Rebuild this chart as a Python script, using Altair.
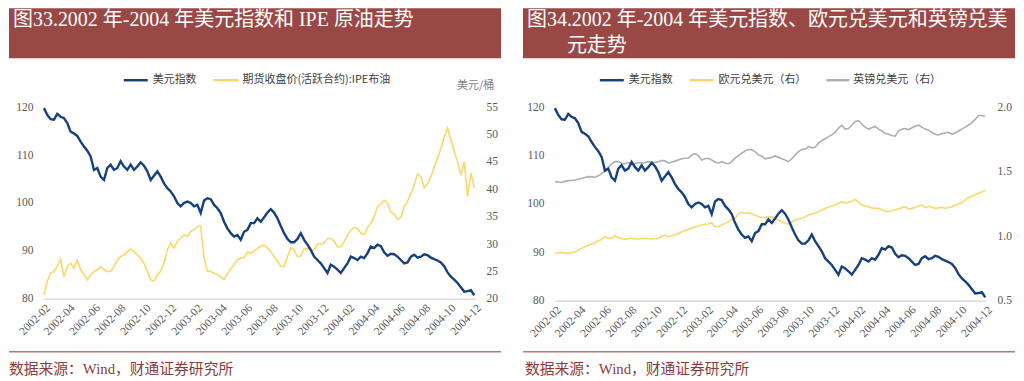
import altair as alt
import pandas as pd

# ---------------- data ----------------
dates = pd.date_range("2002-02-01", periods=130, freq="8D")

usd_index = [
    119.8, 118.4, 117.5, 117.4, 118.6, 118.0, 117.7, 116.7, 114.9, 114.5,
    114.0, 112.8, 111.8, 110.9, 109.7, 106.9, 107.3, 105.5, 104.8, 107.3,
    108.0, 106.9, 107.3, 108.7, 107.6, 106.9, 108.0, 106.9, 107.6, 108.5,
    107.8, 106.6, 104.8, 105.7, 106.6, 105.5, 104.1, 103.1, 102.4, 101.4,
    100.0, 99.3, 100.0, 100.3, 100.0, 99.3, 99.6, 97.9, 100.5, 101.0,
    100.8, 99.6, 98.9, 97.9, 96.1, 94.7, 93.7, 93.0, 93.3, 92.3,
    94.0, 94.4, 95.8, 95.8, 96.8, 96.1, 97.0, 98.0, 98.7, 98.0,
    96.8, 95.2, 93.7, 92.5, 91.8, 91.8, 92.5, 93.7, 92.3, 91.3,
    90.2, 88.8, 88.1, 87.4, 86.4, 85.4, 87.1, 86.7, 86.1, 85.4,
    86.4, 87.4, 88.8, 88.5, 88.1, 88.8, 88.5, 89.5, 90.9, 90.6,
    91.3, 91.0, 89.7, 89.0, 89.4, 89.3, 88.8, 88.1, 87.4, 87.6,
    88.8, 89.2, 88.6, 88.8, 89.3, 89.1, 88.6, 88.3, 88.0, 87.6,
    86.8, 85.5, 84.6, 84.0, 83.3, 82.4, 81.5, 81.6, 81.8, 80.7,
]

ipe_brent = [
    20.7, 23.2, 24.7, 25.0, 25.9, 27.2, 24.0, 25.9, 26.5, 25.6,
    27.1, 25.3, 24.4, 23.5, 24.4, 25.0, 25.3, 25.9, 25.3, 25.0,
    25.0, 25.9, 27.1, 27.7, 28.0, 28.6, 29.1, 28.6, 28.0, 27.4,
    26.5, 25.0, 23.5, 23.2, 24.4, 25.0, 26.5, 28.9, 30.2, 29.3,
    30.5, 31.1, 31.7, 31.4, 32.3, 32.6, 33.2, 33.3, 27.5, 25.0,
    25.0, 24.6, 24.5, 24.0, 23.5, 24.6, 25.5, 26.2, 27.1, 27.5,
    27.5, 28.5, 28.3, 28.7, 29.2, 29.6, 29.8, 29.3, 28.6, 27.7,
    26.9, 25.9, 25.9, 27.7, 29.3, 29.0, 27.7, 27.8, 29.1, 29.2,
    28.9, 29.0, 30.0, 30.0, 30.2, 31.0, 31.0, 30.5, 29.5, 29.5,
    30.5, 31.5, 32.5, 33.0, 32.9, 32.0, 31.7, 33.0, 33.8, 35.0,
    36.8, 37.3, 38.0, 37.5, 35.8, 35.5, 34.5, 34.9, 36.8, 37.8,
    39.2, 40.8, 42.8, 42.3, 40.3, 41.0, 42.3, 44.0, 45.7, 47.5,
    49.5, 51.2, 49.0, 46.9, 45.1, 42.6, 45.0, 38.7, 43.0, 40.2,
]

eur_usd = [
    0.867, 0.872, 0.875, 0.870, 0.867, 0.873, 0.880, 0.893, 0.906, 0.918,
    0.932, 0.940, 0.950, 0.965, 0.975, 0.997, 0.984, 0.984, 1.005, 0.989,
    0.982, 0.976, 0.982, 0.984, 0.980, 0.979, 0.983, 0.984, 0.980, 0.979,
    0.983, 0.984, 1.000, 1.008, 0.997, 1.004, 1.010, 1.020, 1.035, 1.044,
    1.053, 1.064, 1.074, 1.080, 1.087, 1.091, 1.095, 1.105, 1.074, 1.074,
    1.087, 1.100, 1.113, 1.126, 1.139, 1.172, 1.183, 1.178, 1.183, 1.172,
    1.165, 1.152, 1.145, 1.145, 1.152, 1.150, 1.135, 1.125, 1.113, 1.100,
    1.095, 1.110, 1.126, 1.132, 1.139, 1.150, 1.165, 1.172, 1.178, 1.190,
    1.204, 1.215, 1.229, 1.235, 1.242, 1.255, 1.268, 1.258, 1.262, 1.270,
    1.286, 1.265, 1.242, 1.235, 1.229, 1.220, 1.216, 1.216, 1.205, 1.195,
    1.190, 1.198, 1.204, 1.212, 1.220, 1.229, 1.212, 1.216, 1.225, 1.235,
    1.242, 1.220, 1.232, 1.225, 1.216, 1.220, 1.224, 1.216, 1.222, 1.229,
    1.242, 1.250, 1.260, 1.281, 1.300, 1.310, 1.322, 1.333, 1.342, 1.355,
]

gbp_usd = [
    1.423, 1.420, 1.416, 1.425, 1.431, 1.433, 1.436, 1.442, 1.449, 1.455,
    1.462, 1.460, 1.457, 1.468, 1.485, 1.507, 1.535, 1.560, 1.578, 1.578,
    1.565, 1.562, 1.571, 1.562, 1.562, 1.571, 1.568, 1.570, 1.578, 1.573,
    1.572, 1.578, 1.586, 1.585, 1.566, 1.575, 1.582, 1.591, 1.600, 1.604,
    1.604, 1.630, 1.640, 1.625, 1.591, 1.600, 1.604, 1.591, 1.575, 1.566,
    1.578, 1.568, 1.560, 1.578, 1.605, 1.625, 1.643, 1.660, 1.672, 1.670,
    1.656, 1.630, 1.620, 1.600, 1.605, 1.610, 1.622, 1.612, 1.600, 1.591,
    1.578, 1.600, 1.630, 1.655, 1.672, 1.675, 1.695, 1.685, 1.690, 1.721,
    1.740, 1.755, 1.772, 1.785, 1.805, 1.837, 1.860, 1.830, 1.835, 1.860,
    1.890, 1.895, 1.870, 1.845, 1.830, 1.840, 1.850, 1.830, 1.815, 1.798,
    1.790, 1.780, 1.775, 1.815, 1.830, 1.835, 1.825, 1.840, 1.852, 1.860,
    1.845, 1.830, 1.822, 1.805, 1.790, 1.785, 1.795, 1.800, 1.805, 1.790,
    1.800, 1.815, 1.830, 1.845, 1.862, 1.880, 1.905, 1.935, 1.935, 1.930,
]

tick_months = pd.date_range("2002-02-01", "2004-12-01", freq="2MS")
left_ticks = [80, 90, 100, 110, 120]
oil_ticks = [20, 25, 30, 35, 40, 45, 50, 55]
fx_ticks = [0.5, 1.0, 1.5, 2.0]

title1 = "图33.2002 年-2004 年美元指数和 IPE 原油走势"
title2a = "图34.2002 年-2004 年美元指数、欧元兑美元和英镑兑美"
title2b = "元走势"
legend1 = ["美元指数", "期货收盘价(活跃合约):IPE布油"]
unit1 = "美元/桶"
legend2 = ["美元指数", "欧元兑美元（右）", "英镑兑美元（右）"]
source = "数据来源：Wind，财通证券研究所"

# ---------------- styling ----------------
BLUE = "#17407E"
YELLOW = "#F9D86B"
GRAY = "#A9AFB8"
BAR = "#9A4845"
SRC_LINE = "#B87772"
SRC_TEXT = "#8C3B3B"
LABEL = "#595959"
SERIF = "Liberation Serif"
CJK = "Liberation Serif, Noto Sans CJK SC"
LEG = "Noto Sans CJK SC"

df = pd.DataFrame({"date": dates, "usd": usd_index, "ipe": ipe_brent,
                   "eur": eur_usd, "gbp": gbp_usd})
one = pd.DataFrame({"k": [0]})


def xenc():
    return alt.X(
        "date:T",
        scale=alt.Scale(domain=[alt.DateTime(year=2002, month=2, date=1),
                                alt.DateTime(year=2004, month=12, date=1)]),
        axis=alt.Axis(
            values=[alt.DateTime(year=d.year, month=d.month, date=1) for d in tick_months],
            format="%Y-%m", labelAngle=-45, labelAlign="right", labelBaseline="top",
            labelOverlap=False, ticks=False, grid=False, domainColor="#D9D9D9",
            domainWidth=1.5, labelFont=SERIF, labelFontSize=11.5, labelColor=LABEL,
            labelPadding=3, title=None),
    )


def yaxis(values, orient, fmt=None):
    kw = dict(values=values, orient=orient, ticks=False, domain=False, grid=False,
              labelFont=SERIF, labelFontSize=11.5, labelColor=LABEL, labelPadding=11,
              title=None)
    if fmt:
        kw["format"] = fmt
    return alt.Axis(**kw)


def rect(x, x2, y, y2, color):
    return alt.Chart(one).mark_rect(color=color).encode(
        x=alt.value(x), x2=alt.value(x2), y=alt.value(y), y2=alt.value(y2))


def text(s, x, y, size, color, font, baseline="alphabetic"):
    return alt.Chart(one).mark_text(
        text=s, fontSize=size, color=color, font=font, align="left", baseline=baseline
    ).encode(x=alt.value(x), y=alt.value(y))


def hrule(x, x2, y, color, w):
    return alt.Chart(one).mark_rule(color=color, strokeWidth=w).encode(
        x=alt.value(x), x2=alt.value(x2), y=alt.value(y))


# ---------------- panel 1 ----------------
oil_line = alt.Chart(df).mark_line(color=YELLOW, strokeWidth=1.6).encode(
    x=xenc(),
    y=alt.Y("ipe:Q", scale=alt.Scale(domain=[20, 55]), axis=yaxis(oil_ticks, "right")))
usd_line1 = alt.Chart(df).mark_line(color=BLUE, strokeWidth=2.4).encode(
    x=xenc(),
    y=alt.Y("usd:Q", scale=alt.Scale(domain=[80, 120]), axis=yaxis(left_ticks, "left")))

p1 = alt.layer(
    rect(-35, 458, -99, -49, BAR),
    text(title1, -31, -81, 20, "white", CJK),
    hrule(80, 104, -27, BLUE, 2.5),
    text(legend1[0], 109, -27, 11, "#404040", LEG, "middle"),
    hrule(170, 195, -27, YELLOW, 2.5),
    text(legend1[1], 199, -27, 11, "#404040", LEG, "middle"),
    text(unit1, 414, -21, 11, "#7F7F7F", LEG, "middle"),
    hrule(-35, 458, 245, SRC_LINE, 1.5),
    text(source, -35, 267, 14.8, SRC_TEXT, CJK),
    oil_line,
    usd_line1,
).resolve_scale(y="independent").properties(width=432, height=192)

# ---------------- panel 2 ----------------
eur_line = alt.Chart(df).mark_line(color=YELLOW, strokeWidth=1.6).encode(
    x=xenc(),
    y=alt.Y("eur:Q", scale=alt.Scale(domain=[0.5, 2.0]), axis=None))
gbp_line = alt.Chart(df).mark_line(color=GRAY, strokeWidth=1.6).encode(
    x=xenc(),
    y=alt.Y("gbp:Q", scale=alt.Scale(domain=[0.5, 2.0]), axis=yaxis(fx_ticks, "right", ".1f")))
usd_line2 = alt.Chart(df).mark_line(color=BLUE, strokeWidth=2.4).encode(
    x=xenc(),
    y=alt.Y("usd:Q", scale=alt.Scale(domain=[80, 120]), axis=yaxis(left_ticks, "left")))

p2 = alt.layer(
    rect(-32, 461, -99, -49, BAR),
    text(title2a, -28, -81, 20, "white", CJK),
    text(title2b, 12, -55, 20, "white", CJK),
    hrule(45, 69, -27, BLUE, 2.5),
    text(legend2[0], 74, -27, 11, "#404040", LEG, "middle"),
    hrule(135, 159, -27, YELLOW, 2.5),
    text(legend2[1], 164, -27, 11, "#404040", LEG, "middle"),
    hrule(272, 295, -27, GRAY, 2.5),
    text(legend2[2], 299, -27, 11, "#404040", LEG, "middle"),
    hrule(-32, 461, 245, SRC_LINE, 1.5),
    text(source, -30, 267, 14.8, SRC_TEXT, CJK),
    eur_line,
    gbp_line,
    usd_line2,
).resolve_scale(y="independent").properties(width=432, height=194)

chart = alt.hconcat(p1, p2, spacing=80, bounds="flush").properties(
    padding=0
).configure_view(stroke=None)

chart.save("out.html", embed_options={"renderer": "svg", "actions": False})
